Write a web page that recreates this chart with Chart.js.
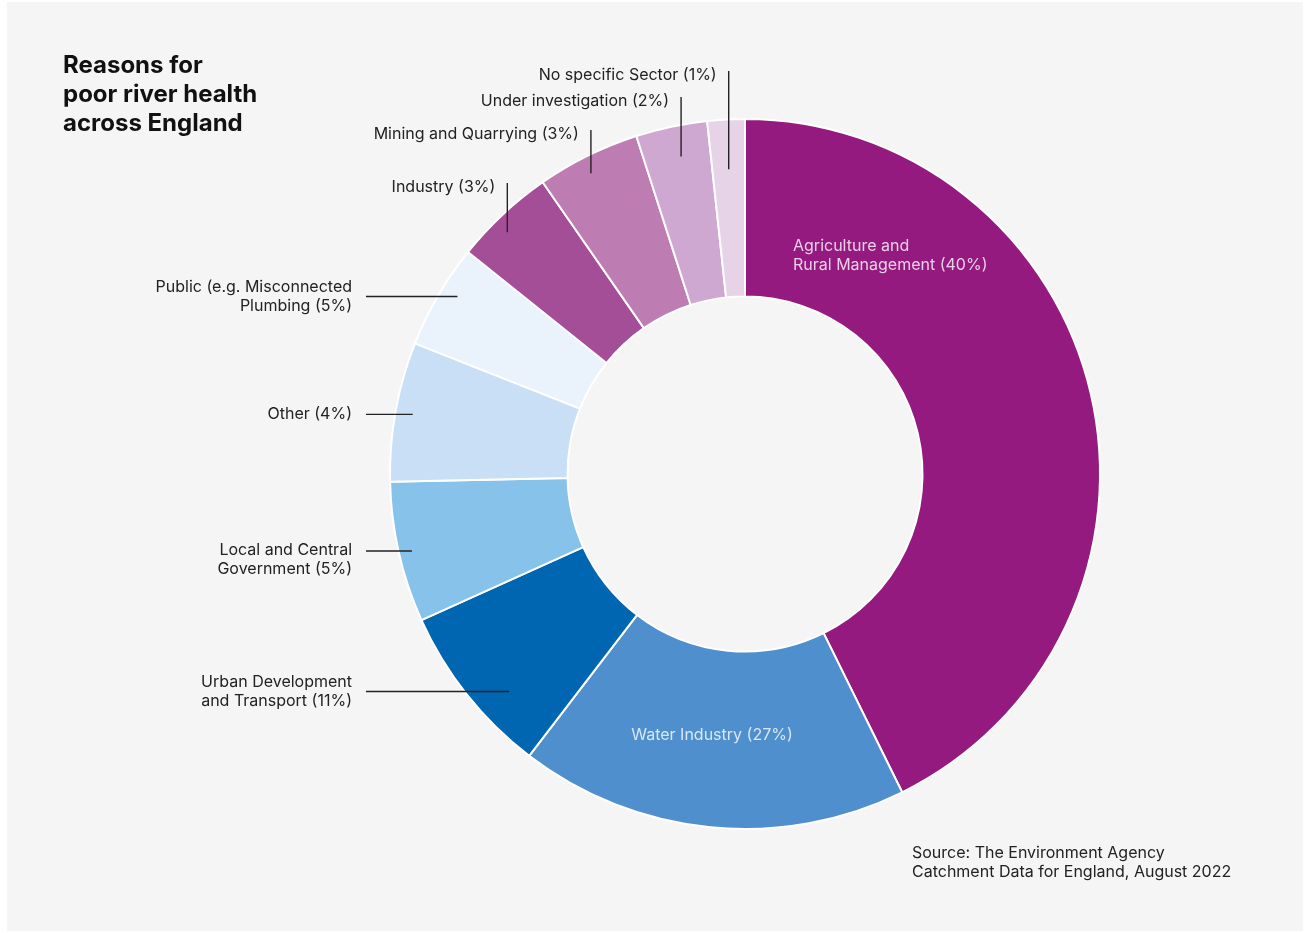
<!DOCTYPE html>
<html>
<head>
<meta charset="utf-8">
<title>Reasons for poor river health across England</title>
<script src="https://cdn.jsdelivr.net/npm/chart.js@4.4.1/dist/chart.umd.min.js"></script>
<style>
  body { margin: 0; background: #fff; font-family: Inter, "Open Sans", sans-serif; }
  #wrap { position: relative; width: 1310px; height: 933px; }
  #panel { position: absolute; left: 7px; top: 2px; width: 1296px; height: 929px; background: #f5f5f5; }
  #chart { position: absolute; left: 0; top: 0; }
  .title { position: absolute; left: 63px; top: 50px; font-weight: 700; font-size: 24px; line-height: 29px; color: #111; }
  .source { position: absolute; left: 912px; top: 843px; font-size: 16px; line-height: 19px; color: #222; }
</style>
</head>
<body>
<div id="wrap">
  <div id="panel"></div>
  <canvas id="chart" width="1310" height="933"></canvas>
  <div class="title">Reasons for<br>poor river health<br>across England</div>
  <div class="source">Source: The Environment Agency<br>Catchment Data for England, August 2022</div>
</div>
<script>
// sectors, clockwise from 12 o'clock
const sectors = ["Agriculture and Rural Management", "Water Industry", "Urban Development and Transport",
  "Local and Central Government", "Other", "Public (e.g. Misconnected Plumbing", "Industry",
  "Mining and Quarrying", "Under investigation", "No specific Sector"];
// slice sizes as drawn in the picture (share of the ring)
const shares = [42.7, 17.7, 7.85, 6.4, 6.35, 4.75, 4.6, 4.7, 3.25, 1.7];
// percentages printed in the labels
const statedPct = [40, 27, 11, 5, 4, 5, 3, 3, 2, 1];
const colours = ["#951a7f", "#4f8fcd", "#0066b2", "#86c2ea", "#c9dff5", "#eaf2fb",
  "#a54e98", "#bd7db3", "#cfa8d2", "#e7d3e8"];
// label text split into lines
const labelLines = [
  ["Agriculture and", "Rural Management (" + statedPct[0] + "%)"],
  ["Water Industry (" + statedPct[1] + "%)"],
  ["Urban Development", "and Transport (" + statedPct[2] + "%)"],
  ["Local and Central", "Government (" + statedPct[3] + "%)"],
  ["Other (" + statedPct[4] + "%)"],
  ["Public (e.g. Misconnected", "Plumbing (" + statedPct[5] + "%)"],
  ["Industry (" + statedPct[6] + "%)"],
  ["Mining and Quarrying (" + statedPct[7] + "%)"],
  ["Under investigation (" + statedPct[8] + "%)"],
  ["No specific Sector (" + statedPct[9] + "%)"]
];
// where each leader line touches its slice: [part of the slice's angle, part of the radius, direction, top of vertical line / label shift]
const leaderAt = [null, null,
  [0.35, 0.904, 'h', 0], [0.49, 0.963, 'h', 9], [0.5, 0.951, 'h', 0], [0.59, 0.952, 'h', 0],
  [0.41, 0.955, 'v', 183], [0.45, 0.952, 'v', 130], [0.55, 0.912, 'v', 97], [0.5, 0.86, 'v', 71]];

const labelPlugin = {
  id: 'sectorLabels',
  afterDatasetsDraw(chart) {
    const ctx = chart.ctx;
    const arcs = chart.getDatasetMeta(0).data;
    ctx.save();
    ctx.font = '16px Inter, "Open Sans", sans-serif';
    ctx.textBaseline = 'middle';
    arcs.forEach(function (arc, i) {
      const p = arc.getProps(['x', 'y', 'startAngle', 'endAngle', 'innerRadius', 'outerRadius'], true);
      const lines = labelLines[i];
      if (i == 0) {
        // inside the big purple slice
        ctx.fillStyle = '#ead0e6';
        ctx.textAlign = 'left';
        ctx.fillText(lines[0], p.x + 48, p.y - 228);
        ctx.fillText(lines[1], p.x + 48, p.y - 209);
        return;
      }
      if (i == 1) {
        ctx.fillStyle = '#d8e7f6';
        ctx.textAlign = 'center';
        ctx.fillText(lines[0], p.x - 33, p.y + 261);
        return;
      }
      const l = leaderAt[i];
      const a = p.startAngle + (p.endAngle - p.startAngle) * l[0];
      const r = p.outerRadius * l[1];
      const ex = p.x + r * Math.cos(a);
      const ey = p.y + r * Math.sin(a);
      ctx.strokeStyle = '#222';
      ctx.lineWidth = 1.4;
      ctx.fillStyle = '#222';
      ctx.textAlign = 'right';
      ctx.beginPath();
      if (l[2] == 'h') {
        ctx.moveTo(366, ey);
        ctx.lineTo(ex, ey);
        ctx.stroke();
        const y0 = ey - (lines.length - 1) * 19 / 2 + l[3];
        for (let k = 0; k < lines.length; k++) {
          ctx.fillText(lines[k], 352, y0 + k * 19);
        }
      } else {
        ctx.moveTo(ex, l[3]);
        ctx.lineTo(ex, ey);
        ctx.stroke();
        ctx.fillText(lines[0], ex - 12, l[3] + 4);
      }
    });
    ctx.restore();
  }
};

new Chart(document.getElementById('chart'), {
  type: 'doughnut',
  data: {
    labels: sectors,
    datasets: [{
      data: shares,
      backgroundColor: colours,
      borderColor: '#ffffff',
      borderWidth: 2
    }]
  },
  options: {
    responsive: false,
    animation: false,
    devicePixelRatio: 1,
    cutout: '50%',
    layout: { padding: { left: 389, right: 209, top: 118, bottom: 103 } },
    plugins: {
      legend: { display: false },
      tooltip: { enabled: false }
    }
  },
  plugins: [labelPlugin]
});
</script>
</body>
</html>
